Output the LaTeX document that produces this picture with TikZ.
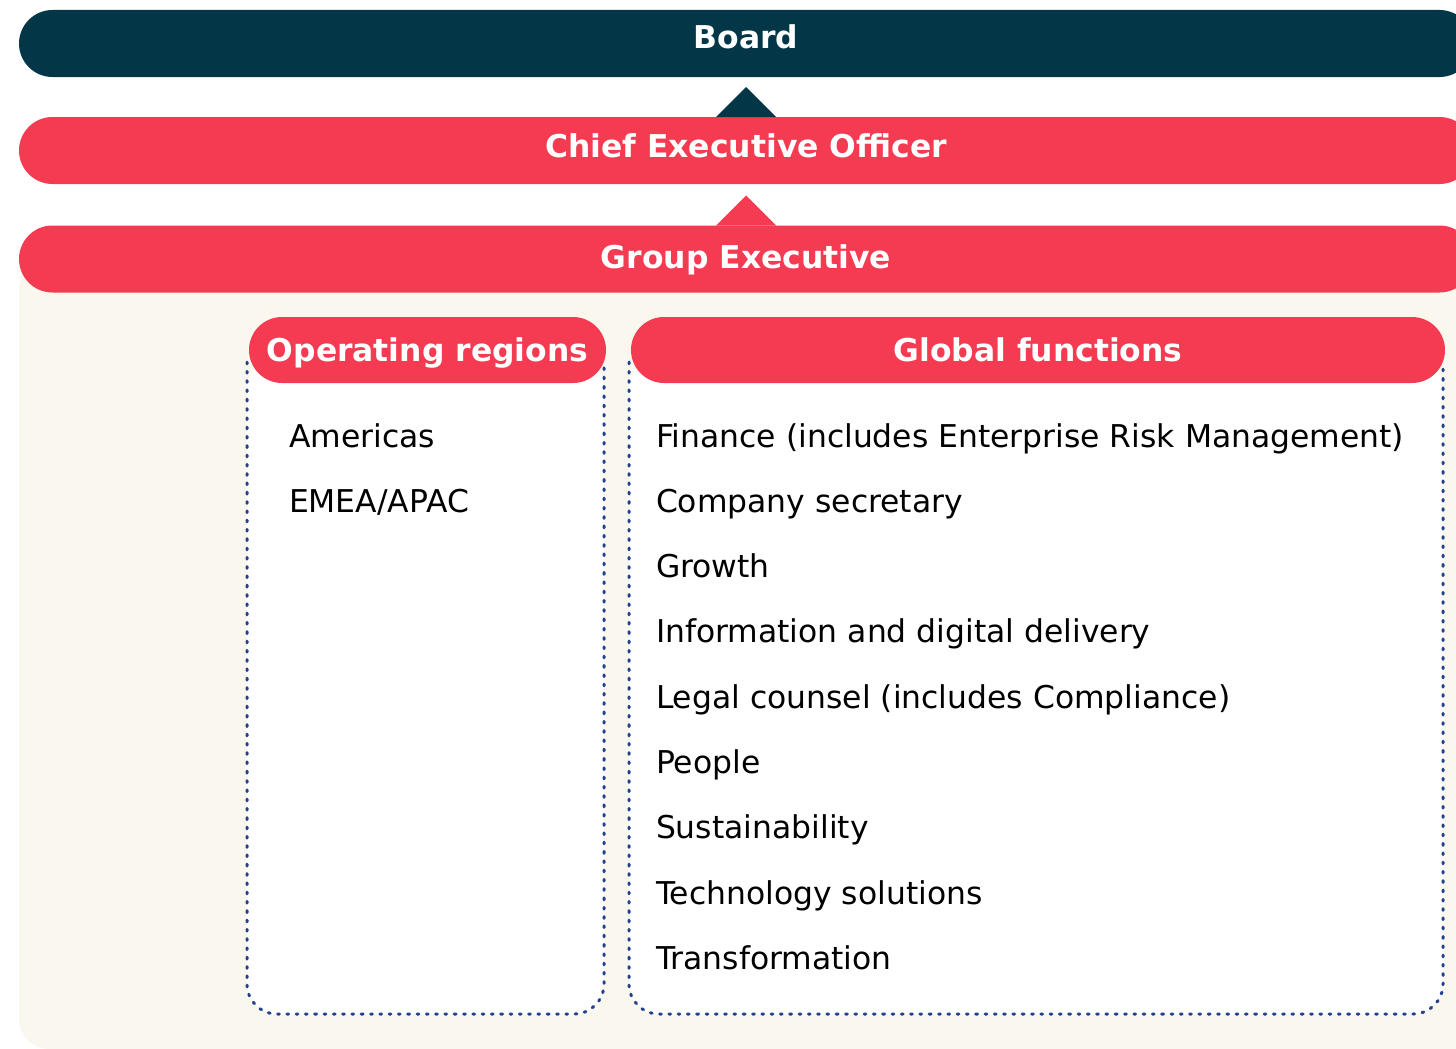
\documentclass[tikz,border=0pt]{standalone}
\usepackage{fontspec}
\setmainfont{DejaVu Sans}
\usepackage{tikz}

\definecolor{boardnavy}{HTML}{033747}
\definecolor{govred}{HTML}{F43B51}
\definecolor{panelcream}{HTML}{FAF7EF}
\definecolor{dotblue}{HTML}{23408E}

\begin{document}
\begin{tikzpicture}[x=1pt, y=-1pt]
		\tikzstyle{every node} = [inner sep = 0pt, outer sep = 0pt]
		\tikzstyle{bar} = [rounded corners = 33.5pt, minimum height = 67pt, minimum width = 1454pt]
		\tikzstyle{pill} = [fill = govred, rounded corners = 33pt, minimum height = 66pt]
		\tikzstyle{headtext} = [text = white, font = \fontsize{31.4}{37}\selectfont\bfseries, text height = 23pt, text depth = 0pt]
		\tikzstyle{itemtext} = [anchor = base west, font = \fontsize{31.4}{37}\selectfont]
		\tikzstyle{dotframe} = [draw = dotblue, line width = 3pt, line cap = round, dash pattern = on 1.8pt off 7.5pt, rounded corners = 30pt]
			\useasboundingbox (0,0) rectangle (1456,1049);
			% cream panel behind the lists
			\fill[panelcream, rounded corners = 30pt] (19,259) rectangle (1490,1049);
			% three levels
			\node[bar, fill = boardnavy] (board) at (746,43.5) {};
			\node[bar, fill = govred] (ceo) at (746,150.5) {};
			\node[bar, fill = govred] (groupexec) at (746,259) {};
			\fill[boardnavy] ([xshift = -30pt]ceo.north) -- ([yshift = 30pt]ceo.north) -- ([xshift = 30pt]ceo.north) -- cycle;
			\fill[govred] ([xshift = -30pt]groupexec.north) -- ([yshift = 30pt]groupexec.north) -- ([xshift = 30pt]groupexec.north) -- cycle;
			\node[headtext] (boardlabel) at (746,37) {Board};
			\node[headtext] (ceolabel) at (746,146) {Chief Executive Officer};
			\node[headtext] (groupexeclabel) at (746,257) {Group Executive};
			% dotted list frames
			\fill[white, rounded corners = 30pt] (247,358) -- (247,1014) -- (604,1014) -- (604,358) -- cycle;
			\draw[dotframe] (247,362) -- (247,1014) -- (604,1014) -- (604,362);
			\fill[white, rounded corners = 30pt] (629,358) -- (629,1014) -- (1443,1014) -- (1443,358) -- cycle;
			\draw[dotframe] (629,362) -- (629,1014) -- (1443,1014) -- (1443,362);
			\node[pill, minimum width = 357pt] (regions) at (427.5,350) {};
			\node[pill, minimum width = 814pt] (functions) at (1038,350) {};
			\node[headtext] (regionslabel) at (427.5,350) {Operating regions};
			\node[headtext] (functionslabel) at (1038,350) {Global functions};
			% operating regions
			\node[itemtext] (americas) at (289,447) {Americas};
			\node[itemtext] (emea) at (289,512.3) {EMEA/APAC};
			% global functions
			\node[itemtext] (finance) at (656,447) {Finance (includes Enterprise Risk Management)};
			\node[itemtext] (cosec) at (656,512.3) {Company secretary};
			\node[itemtext] (growth) at (656,577.6) {Growth};
			\node[itemtext] (digital) at (656,642.9) {Information and digital delivery};
			\node[itemtext] (legal) at (656,708.2) {Legal counsel (includes Compliance)};
			\node[itemtext] (people) at (656,773.5) {People};
			\node[itemtext] (sustain) at (656,838.8) {Sustainability};
			\node[itemtext] (techsol) at (656,904.1) {Technology solutions};
			\node[itemtext] (transform) at (656,969.4) {Transformation};
		\end{tikzpicture}
\end{document}
